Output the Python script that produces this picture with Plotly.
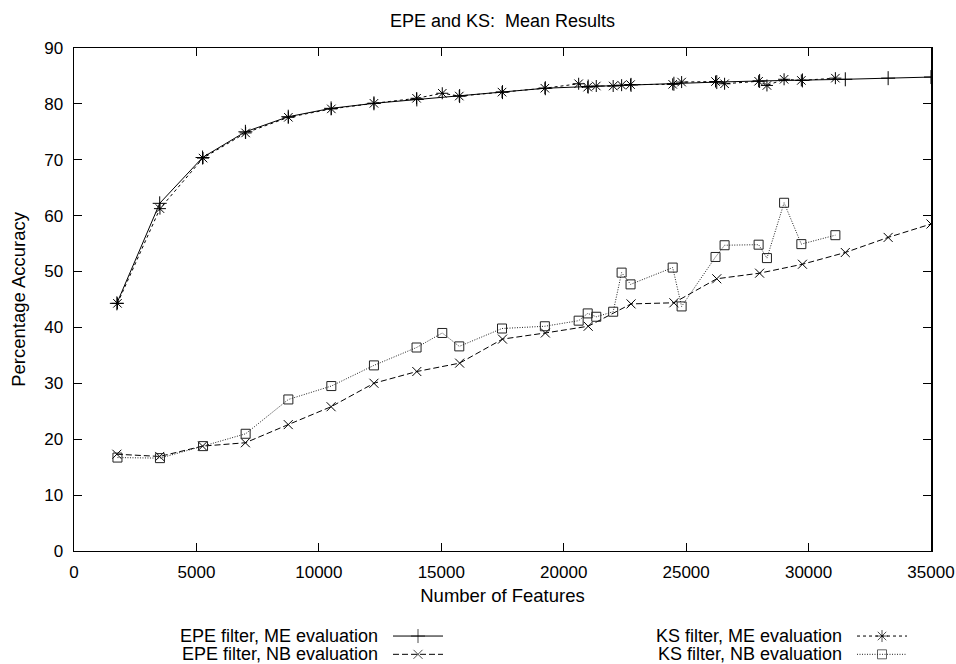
import plotly.graph_objects as go

# ---------------- data ----------------
epe_x = [1750, 3500, 5250, 7000, 8750, 10500, 12250, 14000, 15750, 17500,
         19250, 21000, 22750, 24500, 26250, 28000, 29750, 31500, 33250, 35000]
epe_me = [44.3, 62.2, 70.4, 75.0, 77.7, 79.2, 80.1, 80.8, 81.4, 82.1,
          82.8, 83.1, 83.4, 83.6, 83.9, 84.1, 84.2, 84.4, 84.6, 84.8]
epe_nb = [17.3, 16.9, 18.75, 19.35, 22.6, 25.8, 30.0, 32.1, 33.6, 37.9,
          39.0, 40.2, 44.2, 44.4, 48.7, 49.7, 51.3, 53.4, 56.1, 58.5]

ks_x = [1775, 3510, 5270, 7010, 8755, 10510, 12250, 13990, 15040, 15735,
        17480, 19230, 20610, 20980, 21330, 22020, 22365, 22730, 24450, 24815,
        26200, 26570, 27960, 28300, 29000, 29705, 31095]
ks_me = [44.3, 61.25, 70.3, 74.8, 77.6, 79.1, 80.1, 81.0, 81.9, 81.4,
         82.1, 82.8, 83.6, 83.0, 83.2, 83.2, 83.35, 83.45, 83.5, 83.9,
         84.0, 83.6, 84.05, 83.3, 84.4, 84.2, 84.6]
ks_nb = [16.7, 16.6, 18.75, 20.96, 27.1, 29.5, 33.2, 36.4, 39.0, 36.6,
         39.8, 40.2, 41.2, 42.5, 41.9, 42.8, 49.8, 47.7, 50.7, 43.75,
         52.6, 54.7, 54.8, 52.4, 62.3, 54.9, 56.5]

x_ticks = [0, 5000, 10000, 15000, 20000, 25000, 30000, 35000]
y_ticks = [0, 10, 20, 30, 40, 50, 60, 70, 80, 90]

series_names = ["EPE filter, ME evaluation", "EPE filter, NB evaluation",
                "KS filter, ME evaluation", "KS filter, NB evaluation"]

# ---------------- styles ----------------
FONT = "Liberation Sans, Arial, Helvetica, sans-serif"
FS = 18        # title / key text
FS_AX = 18.5   # axis titles
FS_TICK = 17   # tick labels
W = 956
H = 674                 # rendered height (photo is fitted to 664)
K = H / 664.0           # vertical layout factor
ML = 74
MR = W - 931
MT = 47 * K
PLOT_BOTTOM = 550.7 * K
dom_bottom = (H - PLOT_BOTTOM) / (H - MT)

styles = [
    dict(dash="solid", symbol="cross-thin-open", size=10, color="#000000"),
    dict(dash="6px,3px", symbol="x-thin-open", size=9, color="#000000"),
    dict(dash="3px,3px", symbol="asterisk-open", size=10, color="#000000"),
    dict(dash="1px,1.5px", symbol="square-open", size=9, color="#222222"),
]
xs = [epe_x, epe_x, ks_x, ks_x]
ys = [epe_me, epe_nb, ks_me, ks_nb]

fig = go.Figure()
for name, x, y, st in zip(series_names, xs, ys, styles):
    fig.add_trace(go.Scatter(
        x=x, y=y, mode="lines+markers", name=name, showlegend=False,
        line=dict(color=st["color"], width=1, dash=st["dash"]),
        marker=dict(symbol=st["symbol"], size=st["size"],
                    color=st["color"], line=dict(width=1, color=st["color"])),
        xaxis="x", yaxis="y"))

# ---------------- custom gnuplot-style key (layout only) ----------------
key_rows = [636 * K, 654.3 * K, 636 * K, 654.3 * K]
key_text_right = [380, 380, 844, 844]
key_sample_left = [393, 393, 857, 857]
SAMPLE_LEN = 50
annotations = []
for i, (name, st) in enumerate(zip(series_names, styles)):
    yk = key_rows[i]
    x0 = key_sample_left[i]
    fig.add_trace(go.Scatter(
        x=[x0, x0 + SAMPLE_LEN / 2, x0 + SAMPLE_LEN], y=[yk, yk, yk],
        mode="lines+markers", showlegend=False, hoverinfo="skip",
        line=dict(color=st["color"], width=1, dash=st["dash"]),
        marker=dict(symbol=st["symbol"], size=[0, st["size"], 0],
                    color=st["color"], line=dict(width=1, color=st["color"])),
        xaxis="x2", yaxis="y2"))
    annotations.append(dict(
        x=key_text_right[i], y=yk, xref="x2", yref="y2", text=name,
        showarrow=False, xanchor="right", yanchor="middle",
        font=dict(family=FONT, size=FS, color="#000000")))

axis_common = dict(showgrid=False, zeroline=False, showline=True,
                   linecolor="#000000", linewidth=1.5, mirror="ticks",
                   ticks="inside", ticklen=8, tickwidth=1, tickcolor="#000000",
                   tickfont=dict(family=FONT, size=FS_TICK, color="#000000"))

fig.update_layout(
    width=W, height=H,
    margin=dict(l=ML, r=MR, t=MT, b=0, pad=0),
    paper_bgcolor="#ffffff", plot_bgcolor="#ffffff",
    font=dict(family=FONT, size=FS, color="#000000"),
    title=dict(text="EPE and KS:  Mean Results", x=0.5, xref="paper",
               y=1 - 20 * K / H, yanchor="middle",
               font=dict(family=FONT, size=FS, color="#000000")),
    xaxis=dict(range=[0, 35000], tickvals=x_ticks,
               ticktext=[str(v) for v in x_ticks],
               title=dict(text="Number of Features", standoff=8,
                          font=dict(family=FONT, size=FS_AX)),
               anchor="y", domain=[0, 1], ticklabelstandoff=5,
               **axis_common),
    yaxis=dict(range=[0, 90], tickvals=y_ticks,
               title=dict(text="Percentage Accuracy", standoff=13,
                          font=dict(family=FONT, size=FS_AX)),
               anchor="x", domain=[dom_bottom, 1], ticklabelstandoff=6,
               **axis_common),
    xaxis2=dict(range=[ML, W - MR], domain=[0, 1], visible=False,
                anchor="y2", fixedrange=True),
    yaxis2=dict(range=[H, PLOT_BOTTOM], domain=[0, dom_bottom], visible=False,
                anchor="x2", fixedrange=True),
    annotations=annotations,
    showlegend=False,
)

fig.write_html(
    "out.html",
    config={"displayModeBar": False, "staticPlot": True},
    post_script="document.body.style.margin='0';"
                "document.body.style.padding='0';"
                "document.documentElement.style.overflow='hidden';",
)
